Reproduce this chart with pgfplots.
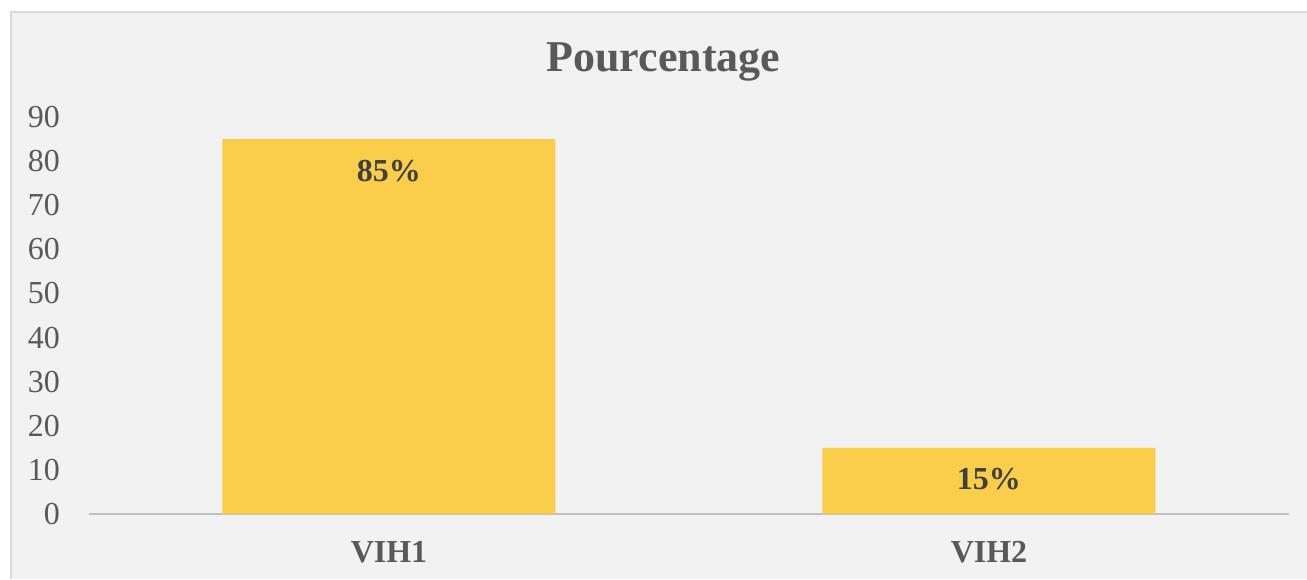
\documentclass[border=0pt]{standalone}
\usepackage{fontspec}
\setmainfont{Liberation Serif}
\usepackage{pgfplots}
\pgfplotsset{compat=1.18}
\definecolor{bgc}{RGB}{242,242,242}
\definecolor{framec}{RGB}{217,217,217}
\definecolor{axc}{RGB}{191,191,191}
\definecolor{barc}{RGB}{250,206,74}
\definecolor{tickc}{RGB}{89,89,89}
\definecolor{lblc}{RGB}{64,64,64}
\begin{document}
\begin{tikzpicture}[x=1pt,y=1pt]
\useasboundingbox (0,0) rectangle (1307,579);
\fill[white] (0,0) rectangle (1307,579);
\fill[bgc] (11,0) rectangle (1307,567);
\draw[framec, line width=1.5pt] (11,0) -- (11,567) -- (1307,567);
\node[anchor=base, text=tickc, font=\fontsize{44}{52}\selectfont\bfseries, inner sep=0pt] at (663.5,507) {Pourcentage};
\begin{axis}[
  at={(89pt,65pt)}, anchor=south west,
  scale only axis, width=1200pt, height=397pt,
  xmin=-0.5, xmax=1.5, ymin=0, ymax=90,
  axis x line*=bottom, axis y line*=left,
  x axis line style={draw=axc, line width=2.5pt, -},
  y axis line style={draw=none},
  major tick length=0pt,
  xtick={0,1}, xticklabels={VIH1,VIH2},
  ytick={0,10,...,90},
  /pgf/number format/assume math mode=true,
  yticklabel style={font=\fontsize{32}{38}\selectfont, text=tickc, inner sep=0pt, anchor=east, xshift=-29pt},
  xticklabel style={font=\fontsize{32}{38}\selectfont\bfseries, text=tickc, inner sep=0pt, anchor=base, yshift=-48pt},
  ybar, bar width=333pt,
  clip=false,
  nodes near coords={\pgfmathprintnumber{\pgfplotspointmeta}\%},
  every node near coord/.append style={anchor=base, yshift=-42pt, inner sep=0pt, font=\fontsize{32}{38}\selectfont\bfseries, text=lblc},
]
\addplot[fill=barc, draw=none] coordinates {(0,85) (1,15)};
\end{axis}
\end{tikzpicture}
\end{document}
